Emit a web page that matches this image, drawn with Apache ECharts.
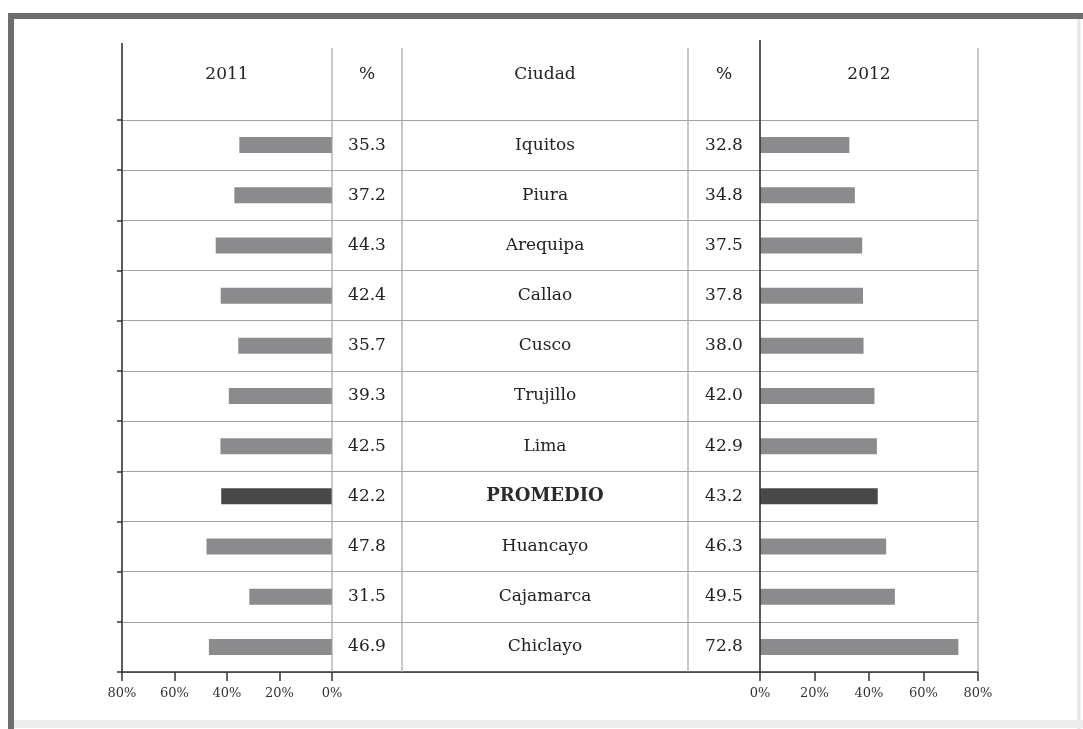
<!DOCTYPE html>
<html lang="es">
  <head>
    <meta charset="UTF-8" />
    <title>2011 vs 2012</title>
    <style>
      html,
      body {
        margin: 0;
        padding: 0;
        background: #fff;
      }
      #chart {
        width: 1083px;
        height: 729px;
      }
    </style>
  </head>
  <body>
    <div id="chart"></div>
    <script src="https://cdn.jsdelivr.net/npm/echarts@6/dist/echarts.min.js"></script>
    <script>
      const cities = ["Iquitos", "Piura", "Arequipa", "Callao", "Cusco", "Trujillo", "Lima", "PROMEDIO", "Huancayo", "Cajamarca", "Chiclayo"];
      const values2011 = [35.3, 37.2, 44.3, 42.4, 35.7, 39.3, 42.5, 42.2, 47.8, 31.5, 46.9];
      const values2012 = [32.8, 34.8, 37.5, 37.8, 38.0, 42.0, 42.9, 43.2, 46.3, 49.5, 72.8];
      const pctMax = 80;
      const pctStep = 20;
      const headers = ["2011", "%", "Ciudad", "%", "2012"];

      const serif = "'DejaVu Serif', 'Liberation Serif', serif";
      const textColor = "#222";
      const gridLine = "#a3a3a3";
      const darkLine = "#333";
      const barGray = "#8b8b8d";
      const barDark = "#484848";

      const gridTop = 120;
      const gridHeight = 552;

      const barColor = (p) => (cities[p.dataIndex] === "PROMEDIO" ? barDark : barGray);

      const pctAxis = (grid, inverse) => ({
        type: "value",
        gridIndex: grid,
        inverse: inverse,
        min: 0,
        max: pctMax,
        interval: pctStep,
        axisLine: { show: true, onZero: false, lineStyle: { color: darkLine, width: 1.6 } },
        axisTick: { show: true, length: 9, lineStyle: { color: darkLine, width: 1.5 } },
        axisLabel: { formatter: "{value}%", fontFamily: serif, fontSize: 13, color: "#333", margin: 15 },
        splitLine: { show: false },
      });

      const catAxis = (grid, position, extra) =>
        Object.assign(
          {
            type: "category",
            gridIndex: grid,
            position: position,
            data: cities,
            inverse: true,
            axisLine: { show: false, onZero: false },
            axisTick: { show: false },
            axisLabel: { show: false },
            splitLine: { show: false },
          },
          extra
        );

      const vline = (x, y1, y2, color, w) => ({
        type: "line",
        z: 50,
        shape: { x1: x, y1: y1, x2: x, y2: y2 },
        style: { stroke: color, lineWidth: w },
      });

      const headerX = [227, 367, 545, 724, 869];

      const option = {
        animation: false,
        backgroundColor: "#fff",
        grid: [
          { left: 122, width: 210, top: gridTop, height: gridHeight },
          { left: 332, width: 428, top: gridTop, height: gridHeight },
          { left: 760, width: 218, top: gridTop, height: gridHeight },
        ],
        xAxis: [
          pctAxis(0, true),
          {
            type: "value",
            gridIndex: 1,
            min: 0,
            max: 1,
            axisLine: { show: true, onZero: false, lineStyle: { color: darkLine, width: 1.6 } },
            axisTick: { show: false },
            axisLabel: { show: false },
            splitLine: { show: false },
          },
          pctAxis(2, false),
        ],
        yAxis: [
          catAxis(0, "left", {
            axisTick: { show: true, length: 5, lineStyle: { color: darkLine, width: 1.5 } },
            splitLine: { show: true, lineStyle: { color: gridLine, width: 1.2 } },
          }),
          catAxis(0, "right", {
            axisLabel: {
              show: true,
              align: "center",
              margin: 35,
              fontFamily: serif,
              fontSize: 17,
              color: textColor,
              formatter: (v, i) => values2011[i].toFixed(1),
            },
          }),
          catAxis(1, "left", {
            splitLine: { show: true, lineStyle: { color: gridLine, width: 1.2 } },
            axisLabel: {
              show: true,
              align: "center",
              margin: -213,
              fontFamily: serif,
              fontSize: 17,
              color: textColor,
              formatter: (v) => (v === "PROMEDIO" ? "{b|" + v + "}" : v),
              rich: {
                b: { fontFamily: serif, fontSize: 18, fontWeight: "bold", color: "#2a2a2a" },
              },
            },
          }),
          catAxis(2, "left", {
            splitLine: { show: true, lineStyle: { color: gridLine, width: 1.2 } },
            axisLabel: {
              show: true,
              align: "center",
              margin: 36,
              fontFamily: serif,
              fontSize: 17,
              color: textColor,
              formatter: (v, i) => values2012[i].toFixed(1),
            },
          }),
        ],
        series: [
          {
            type: "bar",
            xAxisIndex: 0,
            yAxisIndex: 0,
            data: values2011,
            barWidth: 16,
            itemStyle: { color: barColor },
          },
          {
            type: "bar",
            xAxisIndex: 2,
            yAxisIndex: 3,
            data: values2012,
            barWidth: 16,
            itemStyle: { color: barColor },
          },
        ],
        graphic: [
          // frame
          { type: "line", shape: { x1: 11, y1: 16, x2: 11, y2: 729 }, style: { stroke: "#6e6e6e", lineWidth: 6 } },
          { type: "line", shape: { x1: 8, y1: 16, x2: 1083, y2: 16 }, style: { stroke: "#6e6e6e", lineWidth: 6 } },
          { type: "line", shape: { x1: 1079, y1: 19, x2: 1079, y2: 729 }, style: { stroke: "#e4e4e4", lineWidth: 3 } },
          { type: "line", shape: { x1: 14, y1: 724, x2: 1083, y2: 724 }, style: { stroke: "#ececec", lineWidth: 8 } },
          // table verticals
          vline(122, 43, 673, darkLine, 1.6),
          vline(332, 48, 672, gridLine, 1.2),
          vline(402, 48, 672, gridLine, 1.2),
          vline(688, 48, 672, gridLine, 1.2),
          vline(760, 40, 673, darkLine, 1.6),
          vline(978, 48, 672, gridLine, 1.2),
        ].concat(
          headers.map((h, i) => ({
            type: "text",
            z: 50,
            x: headerX[i],
            y: 75,
            style: {
              text: h,
              font: "17px " + serif,
              fill: textColor,
              textAlign: "center",
              textVerticalAlign: "middle",
            },
          }))
        ),
      };

      const chart = echarts.init(document.getElementById("chart"));
      chart.setOption(option);
    </script>
  </body>
</html>
